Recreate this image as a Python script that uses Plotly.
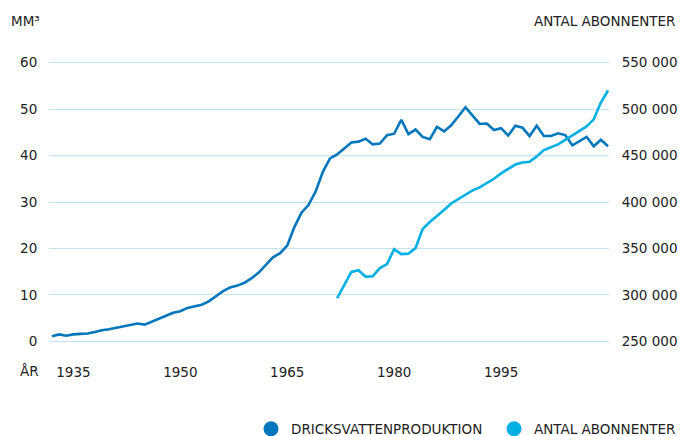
import plotly.graph_objects as go

years = list(range(1932, 2011))
production = [1.1, 1.5, 1.2, 1.5, 1.6, 1.7, 2.0, 2.4, 2.6, 2.9, 3.2, 3.5, 3.85, 3.6, 4.2, 4.75, 5.5, 6.15, 6.5, 7.2,
              7.6, 7.9, 8.6, 9.7, 10.8, 11.6, 12.0, 12.6, 13.6, 14.8, 16.5, 18.1, 19.0, 20.6, 24.6, 27.7, 29.4, 32.3, 36.5, 39.4,
              40.25, 41.6, 42.8, 43.0, 43.6, 42.4, 42.6, 44.4, 44.7, 47.7, 44.6, 45.6, 44.0, 43.5, 46.2, 45.2, 46.5, 48.4, 50.4, 48.6,
              46.8, 46.9, 45.5, 45.9, 44.3, 46.4, 46.0, 44.2, 46.4, 44.2, 44.2, 44.8, 44.4, 42.2, 43.1, 44.0, 42.0, 43.4, 42.0]

sub_years = list(range(1972, 2011))
subscribers = [296400, 310400, 324800, 326600, 319600, 320100, 328800, 333100, 349300, 343900,
               344400, 350400, 370900, 378400, 384400, 391400, 398400, 403200, 407900, 412500,
               415800, 420300, 425000, 430800, 435600, 440300, 442600, 443400, 449100, 455900,
               458900, 462000, 466900, 471800, 476600, 481400, 489000, 507000, 520000]

left_ticks = [0, 10, 20, 30, 40, 50, 60]
right_ticks = [250000, 300000, 350000, 400000, 450000, 500000, 550000]
right_labels = ["250 000", "300 000", "350 000", "400 000", "450 000", "500 000", "550 000"]
x_ticks = [1935, 1950, 1965, 1980, 1995]

DARK = "rgb(0,118,189)"
LIGHT = "rgb(0,176,228)"
GRID = "rgb(196,228,242)"
TXT = "#222222"
FONT = "DejaVu Sans"
FS = 13.5

fig = go.Figure()
fig.add_trace(go.Scatter(x=years, y=production, mode="lines", line=dict(color=DARK, width=2.6),
                         showlegend=False, yaxis="y", cliponaxis=False))
fig.add_trace(go.Scatter(x=sub_years, y=subscribers, mode="lines", line=dict(color=LIGHT, width=2.6),
                         showlegend=False, yaxis="y2", cliponaxis=False))
fig.add_trace(go.Scatter(x=[None], y=[None], mode="markers", name="DRICKSVATTENPRODUKTION",
                         marker=dict(color=DARK, size=15, symbol="circle"), legend="legend"))
fig.add_trace(go.Scatter(x=[None], y=[None], mode="markers", name="ANTAL ABONNENTER",
                         marker=dict(color=LIGHT, size=15, symbol="circle"), legend="legend2"))

L, R, T, B = 49, 69, 58, 90
W, H = 678, 436
pw, ph = W - L - R, H - T - B

def px(xp):
    return (xp - L) / pw

def py(yp):
    return (H - B - yp) / ph

leg_common = dict(orientation="h", xanchor="left", yanchor="middle", y=py(429),
                  font=dict(size=FS, color=TXT), itemsizing="trace",
                  bgcolor="rgba(0,0,0,0)")

fig.update_layout(
    width=W, height=H,
    margin=dict(l=L, r=R, t=T, b=B, autoexpand=False),
    paper_bgcolor="white", plot_bgcolor="white",
    font=dict(family=FONT, size=FS, color=TXT),
    xaxis=dict(range=[1931.58, 2010.14], tickvals=x_ticks, showgrid=False, zeroline=False,
               showline=False, ticks="outside", ticklen=14, tickcolor="rgba(0,0,0,0)",
               tickfont=dict(size=FS, color=TXT), automargin=False),
    yaxis=dict(range=[-1, 61], tickvals=left_ticks, showgrid=True, gridcolor=GRID, gridwidth=1.2,
               zeroline=False, showline=False, ticks="outside", ticklen=8, tickcolor="rgba(0,0,0,0)",
               tickfont=dict(size=FS, color=TXT), automargin=False),
    yaxis2=dict(range=[245000, 555000], tickvals=right_ticks, ticktext=right_labels, overlaying="y",
                side="right", showgrid=False, zeroline=False, showline=False, ticks="outside",
                ticklen=9, tickcolor="rgba(0,0,0,0)", tickfont=dict(size=FS, color=TXT),
                automargin=False),
    legend=dict(x=px(251), **leg_common),
    legend2=dict(x=px(494), **leg_common),
    annotations=[
        dict(text="MM³", xref="paper", yref="paper", x=px(9), y=py(21), xanchor="left",
             yanchor="middle", showarrow=False, font=dict(size=FS, color=TXT)),
        dict(text="ANTAL ABONNENTER", xref="paper", yref="paper", x=px(677), y=py(21),
             xanchor="right", yanchor="middle", showarrow=False, font=dict(size=FS, color=TXT)),
        dict(text="ÅR", xref="paper", yref="paper", x=px(41), y=py(371), xanchor="right",
             yanchor="middle", showarrow=False, font=dict(size=FS, color=TXT)),
    ],
)

fig.write_html("out.html", config={"displayModeBar": False},
               post_script="document.body.style.margin='0';document.body.style.overflow='hidden';")
